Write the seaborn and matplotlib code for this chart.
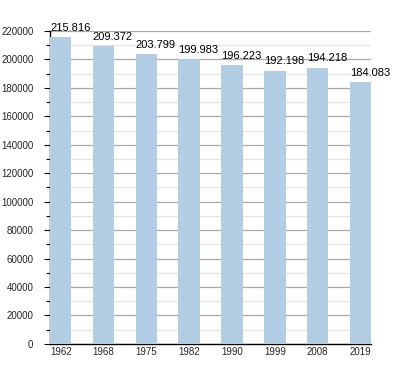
import matplotlib
matplotlib.use("Agg")
import matplotlib.pyplot as plt
import pandas as pd
import seaborn as sns
from matplotlib.ticker import MultipleLocator

years = ["1962", "1968", "1975", "1982", "1990", "1999", "2008", "2019"]
population = [215816, 209372, 203799, 199983, 196223, 192198, 194218, 184083]
labels = ["215.816", "209.372", "203.799", "199.983", "196.223", "192.198", "194.218", "184.083"]

BAR_COLOR = "#b3cde4"


def main() -> None:
    sns.set_theme(style="white")
    plt.rcParams["font.family"] = ["Liberation Sans", "DejaVu Sans"]

    df = pd.DataFrame({"year": years, "population": population})

    fig = plt.figure(figsize=(4.0, 3.73), dpi=100)
    ax = fig.add_axes([0.125, 0.078, 0.803, 0.839])
    sns.barplot(data=df, x="year", y="population", color=BAR_COLOR, width=0.5,
                saturation=1, linewidth=0, ax=ax, zorder=3)

    ax.set_xlim(-0.25, len(years) - 0.75)
    ax.set_ylim(0, 220000)
    ax.yaxis.set_major_locator(MultipleLocator(20000))
    ax.yaxis.set_minor_locator(MultipleLocator(10000))
    ax.grid(axis="y", which="major", color="#a8a8a8", linewidth=0.9, zorder=0)
    ax.grid(axis="y", which="minor", color="#e4e4e4", linewidth=0.9, zorder=0)
    ax.set_axisbelow(True)

    for side in ["top", "right"]:
        ax.spines[side].set_visible(False)
    for side in ["left", "bottom"]:
        ax.spines[side].set_color("black")
        ax.spines[side].set_linewidth(1.0)

    ax.tick_params(axis="y", which="major", left=True, length=4, width=0.8,
                   color="black", labelsize=7, pad=8)
    ax.tick_params(axis="y", which="minor", left=True, length=3, width=0.8, color="black")
    ax.tick_params(axis="x", bottom=False, length=0, labelsize=7, pad=2)
    ax.set_xlabel("")
    ax.set_ylabel("")

    for i, (val, txt) in enumerate(zip(population, labels)):
        ax.annotate(txt, (i - 0.25, val), xytext=(0, 3), textcoords="offset points",
                    ha="left", va="bottom", fontsize=8, color="black", zorder=4)

    fig.savefig("out.png", dpi=100, facecolor="white")
    plt.close(fig)


if __name__ == "__main__":
    main()
